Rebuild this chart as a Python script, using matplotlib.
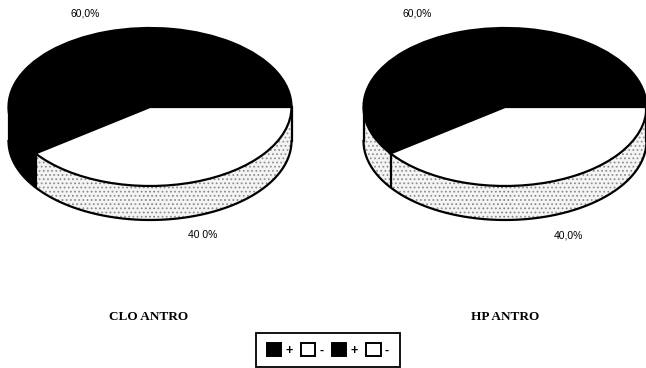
import numpy as np
import matplotlib
matplotlib.use("Agg")
import matplotlib.pyplot as plt
from matplotlib.patches import Patch

W, H = 646, 368
DPI = 100
plt.rcParams['hatch.linewidth'] = 0.7
plt.rcParams['font.family'] = ['Liberation Sans', 'DejaVu Sans']

# data
shares = [60, 40]
charts = ["CLO ANTRO", "HP ANTRO"]
pct_labels = [("60,0%", "40 0%"), ("60,0%", "40,0%")]
legend_labels = ["+", "-", "+", "-"]

# layout (pixels)
centers = [(150, 107), (505, 107)]
rx, ry, depth = 141.5, 79, 34
pct_pos = [((85, 14), (203, 235)), ((417, 14), (568, 235))]
title_pos = [(149, 317), (505, 317)]
neg_wall = ["#000000", "#f4f4f4"]

fig = plt.figure(figsize=(W / DPI, H / DPI), dpi=DPI, facecolor="white")

def make_axes(cx, cy):
    # unit circle -> ellipse; extra room below for the wall
    pad = 1.02
    x0, x1 = cx - rx * pad, cx + rx * pad
    y_top = cy - ry * pad
    d = depth / ry
    y_bot = cy + ry * (pad + d)
    ax = fig.add_axes([x0 / W, 1 - y_bot / H, (x1 - x0) / W, (y_bot - y_top) / H])
    return ax, pad, d

for i, (cx, cy) in enumerate(centers):
    ax, pad, d = make_axes(cx, cy)
    wall_cols = [neg_wall[i], "#f4f4f4"]
    for off in np.arange(d, 0, -1 / ry):
        w, _ = ax.pie(shares, startangle=0, center=(0, -off), radius=1,
                      colors=wall_cols, wedgeprops=dict(linewidth=0))
        for wedge, col in zip(w, wall_cols):
            wedge.set_edgecolor("#777777" if col != "#000000" else "#000000")
            wedge.set_hatch("....")
            wedge.set_linewidth(0)
    # lower rim of the wall (front half only)
    t = np.linspace(np.pi, 2 * np.pi, 200)
    ax.plot(np.cos(t), np.sin(t) - d, color="black", lw=1.6)
    # top face
    ax.pie(shares, startangle=0, radius=1, colors=["black", "white"],
           wedgeprops=dict(linewidth=1.6, edgecolor="black"))
    # wall edges
    a = np.deg2rad(shares[0] / sum(shares) * 360)
    ax.plot([1, 1], [0, -d], color="black", lw=1.6)
    ax.plot([-1, -1], [0, -d], color="black", lw=1.6)
    ax.plot([np.cos(a), np.cos(a)], [np.sin(a), np.sin(a) - d], color="black", lw=1.6)
    ax.set_aspect("auto")
    ax.set_xlim(-pad, pad)
    ax.set_ylim(-(pad + d), pad)
    ax.axis("off")

    for (tx, ty), s in zip(pct_pos[i], pct_labels[i]):
        fig.text(tx / W, 1 - ty / H, s, ha="center", va="center", fontsize=7.5)
    fig.text(title_pos[i][0] / W, 1 - title_pos[i][1] / H, charts[i], ha="center",
             va="center", fontsize=9.5, fontweight="bold", family="Liberation Serif")

handles = [Patch(facecolor=c, edgecolor="black", linewidth=1.4)
           for c in ["black", "white", "black", "white"]]
leg = fig.legend(handles, legend_labels, ncol=4, loc="center",
                 bbox_to_anchor=(328 / W, 1 - 350 / H), frameon=True, fancybox=False,
                 edgecolor="black", framealpha=1,
                 handlelength=1.15, handleheight=1.15, handletextpad=0.35,
                 columnspacing=0.65, borderpad=0.85,
                 prop={"weight": "bold", "size": 9})
leg.get_frame().set_linewidth(1.3)

fig.savefig("out.png", dpi=DPI)
